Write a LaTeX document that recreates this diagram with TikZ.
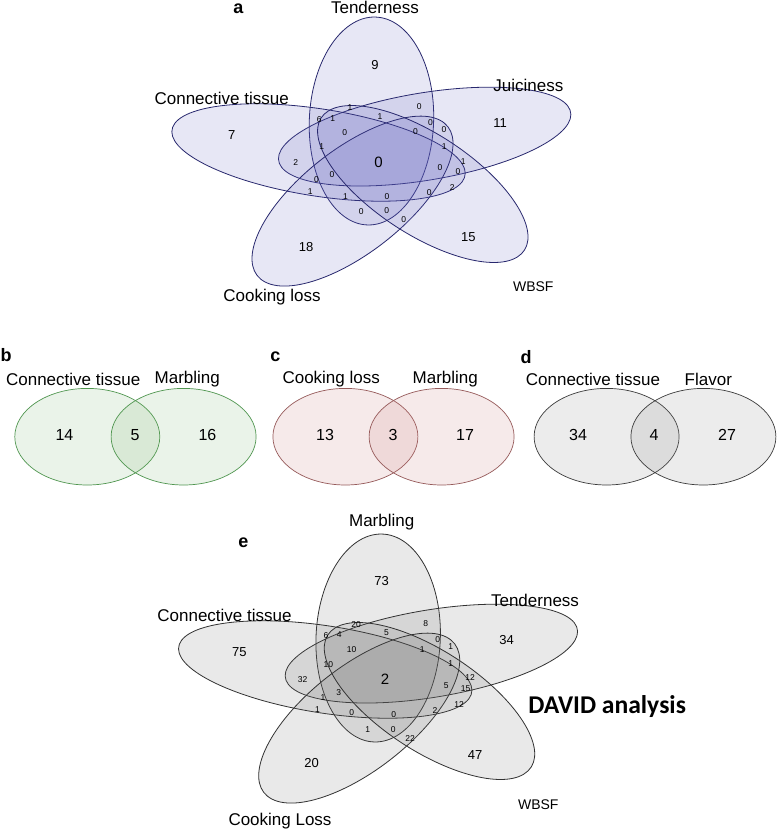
\documentclass[tikz,border=0pt]{standalone}
\usepackage{fontspec}
\setmainfont{Liberation Sans}
\newfontfamily\davidfont{Carlito}
\definecolor{navyline}{RGB}{40,40,110}
\definecolor{lavfill}{RGB}{100,100,190}
\definecolor{greyline}{RGB}{50,50,50}
\definecolor{greyfill}{RGB}{105,105,105}
\definecolor{greenline}{RGB}{80,150,80}
\definecolor{greenfill}{RGB}{120,180,110}
\definecolor{roseline}{RGB}{150,90,90}
\definecolor{rosefill}{RGB}{200,120,120}
\definecolor{dgreyline}{RGB}{60,60,60}
\definecolor{dgreyfill}{RGB}{130,130,130}
\begin{document}
\begin{tikzpicture}[x=1pt,y=1pt,
  every node/.style={inner sep=0pt,outer sep=0pt},
  setname/.style={font=\fontsize{17}{17}\selectfont},
  panelletter/.style={font=\bfseries\fontsize{18}{18}\selectfont},
  regnum/.style={font=\fontsize{13}{13}\selectfont},
  smallnum/.style={font=\fontsize{8.5}{8.5}\selectfont},
  centnum/.style={font=\fontsize{15}{15}\selectfont},
  pairnum/.style={font=\fontsize{16}{16}\selectfont},
  wbsfname/.style={font=\fontsize{14}{14}\selectfont},
  petala/.style={draw=navyline,line width=0.8pt,fill=lavfill,fill opacity=0.15},
  petale/.style={draw=greyline,line width=0.8pt,fill=greyfill,fill opacity=0.14},
  pairb/.style={draw=greenline,line width=0.7pt,fill=greenfill,fill opacity=0.15},
  pairc/.style={draw=roseline,line width=0.7pt,fill=rosefill,fill opacity=0.15},
  paird/.style={draw=dgreyline,line width=0.7pt,fill=dgreyfill,fill opacity=0.15}]
\fill[white] (0,0) rectangle (778,-832);
\useasboundingbox (0,0) rectangle (778,-832);

% panel a: five-set diagram
\begin{scope}[shift={(381,-162)},xscale=1.446]
\foreach \cx/\cy/\ang/\len in {-6.6/41/88.7/104, 30.2/25.4/14.9/104, -43.2/9.5/166/104, -19.7/-39.1/233.3/101, 28.9/-22/311.8/98}
  \draw[petala,rotate around={\ang:(\cx,\cy)}] (\cx,\cy) ellipse [x radius=\len, y radius=43];
\end{scope}
\node[panelletter] (aletter) at (238.3,-8.5) {a};
\node[setname] (aTend) at (375,-7.8) {Tenderness};
\node[setname] (aConn) at (221.7,-98.3) {Connective tissue};
\node[setname] (aJuic) at (528.3,-85) {Juiciness};
\node[setname] (aCook) at (272,-297.5) {Cooking loss};
\node[wbsfname] (aWBSF) at (533.3,-287) {WBSF};
\foreach \x/\y/\n [count=\i] in {375/65/9, 231.7/135/7, 500/123.3/11, 306/247/18, 468.3/237/15}
  \node[regnum] (ar\i) at (\x,-\y) {\n};
\node[centnum] (acore) at (378.5,-162) {0};
\foreach \x/\y/\n [count=\i] in {350/107.7/1, 419.3/107/0, 319.3/119.3/6, 332.7/118.7/1,
    380/116.5/1, 430.5/122.7/0, 444/130/0, 344.7/132.7/0, 415.5/131.8/0,
    321.7/147/1, 444.2/147/1, 295.8/162.3/2, 463.3/161.3/1, 440/168/0,
    458/172/0, 316.5/180/0, 332/174.8/0, 452.3/187.7/2, 310.3/191.5/1,
    345.5/196.2/1, 387/196.3/0, 429.2/192.7/0, 361.3/211.5/0, 386.7/211/0, 403.7/220/0}
  \node[smallnum] (as\i) at (\x,-\y) {\n};

% panels b, c, d: two-set diagrams
\foreach \lx/\rx/\sty [count=\i] in {87.3/183.6/pairb, 345.4/441.6/pairc, 606.6/703.4/paird} {
  \draw[\sty] (\lx,-436.7) ellipse [x radius=72.5, y radius=48.3];
  \draw[\sty] (\rx,-436.7) ellipse [x radius=72.5, y radius=48.3];
}
\node[panelletter] (bletter) at (6,-355) {b};
\node[panelletter] (cletter) at (275.4,-356.7) {c};
\node[panelletter] (dletter) at (526,-356.7) {d};
\node[setname] (bConn) at (73.2,-379.3) {Connective tissue};
\node[setname] (bMarb) at (187.3,-379.3) {Marbling};
\node[setname] (cCook) at (331.2,-379.3) {Cooking loss};
\node[setname] (cMarb) at (445.3,-379.3) {Marbling};
\node[setname] (dConn) at (593,-379.3) {Connective tissue};
\node[setname] (dFlav) at (708.3,-379.3) {Flavor};
\foreach \x/\n [count=\i] in {64.5/14, 135/5, 207.4/16, 325/13, 393/3, 465/17, 578/34, 654/4, 727/27}
  \node[pairnum] (p\i) at (\x,-435) {\n};

% panel e: five-set diagram, DAVID
\begin{scope}[shift={(387.7,-679)},xscale=1.446]
\foreach \cx/\cy/\ang/\len in {-6.6/41/88.7/104, 30.2/25.4/14.9/104, -43.2/9.5/166/104, -19.7/-39.1/233.3/101, 28.9/-22/311.8/98}
  \draw[petale,rotate around={\ang:(\cx,\cy)}] (\cx,\cy) ellipse [x radius=\len, y radius=43];
\end{scope}
\node[panelletter] (eletter) at (243.3,-542.7) {e};
\node[setname] (eMarb) at (381.7,-521.7) {Marbling};
\node[setname] (eTend) at (535,-600) {Tenderness};
\node[setname] (eConn) at (224.5,-615) {Connective tissue};
\node[setname] (eCook) at (280,-820.7) {Cooking Loss};
\node[wbsfname] (eWBSF) at (538.3,-805) {WBSF};
\node[font=\davidfont\bfseries\fontsize{25.6}{25.6}\selectfont,anchor=base west] (edavid) at (528.3,-713.3) {DAVID analysis};
\foreach \x/\y/\n [count=\i] in {381.7/581.3/73, 239.3/652.3/75, 506.5/640.5/34, 311.7/763.3/20, 475/755/47}
  \node[regnum] (er\i) at (\x,-\y) {\n};
\node[centnum] (ecore) at (385,-679.3) {2};
\foreach \x/\y/\n [count=\i] in {356/624.7/20, 425.7/623.7/8, 326/636/6, 339.3/635/4,
    386.5/632.7/5, 437.7/640/0, 450.7/646.3/1, 351.5/650/10, 422.3/649.2/1,
    328.3/664.3/10, 450.7/663.7/1, 302.5/680/32, 470/677.5/12, 465.5/688.7/15,
    446.3/685.8/5, 323/697.8/1, 338.7/693/3, 459.2/704.7/12, 317.5/710/1,
    351.7/712.8/0, 393.7/714.2/0, 435/710.3/2, 367.8/729.7/1, 393.3/729.5/0, 410/738.3/22}
  \node[smallnum] (es\i) at (\x,-\y) {\n};
\end{tikzpicture}
\end{document}
